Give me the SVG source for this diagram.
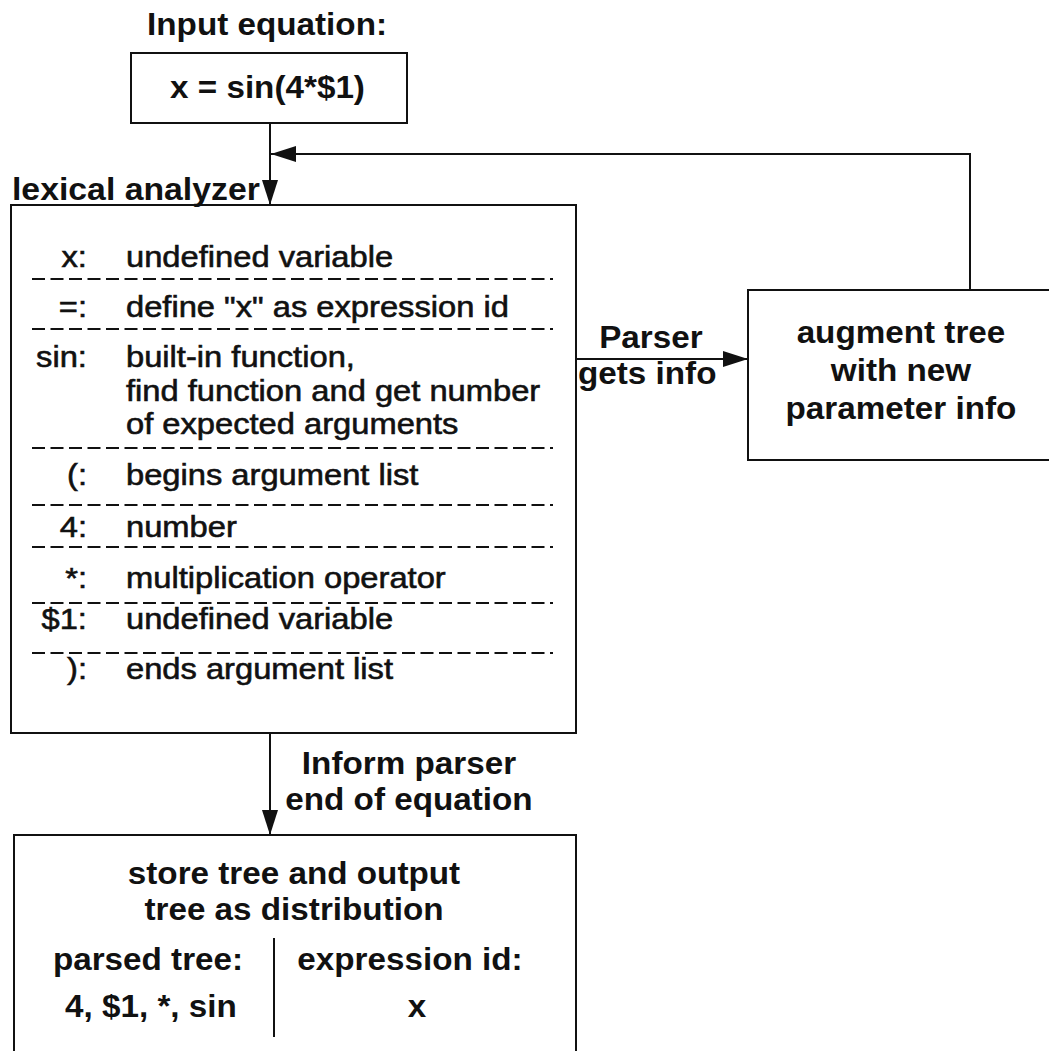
<svg xmlns="http://www.w3.org/2000/svg" width="1049" height="1051" viewBox="0 0 1049 1051">
  <style>
    .box { fill: none; stroke: #111; stroke-width: 2; }
    .wire { fill: none; stroke: #111; stroke-width: 2; }
    .sep { fill: none; stroke: #111; stroke-width: 2; stroke-dasharray: 13 5.5; }
    text { font-family: "Liberation Sans", Arial, Helvetica, sans-serif; fill: #111; }
    .b { font-weight: bold; font-size: 30.5px; }
    .r { font-size: 30px; stroke: #111; stroke-width: 0.6px; }
    .c { text-anchor: middle; }
    .e { text-anchor: end; }
  </style>
  <defs>
    <marker id="arrow" viewBox="0 0 25 16" refX="25" refY="8" markerWidth="25" markerHeight="16" markerUnits="userSpaceOnUse" orient="auto">
      <path d="M0,0 L25,8 L0,16 Z" fill="#111"/>
    </marker>
  </defs>
  <rect width="1049" height="1051" fill="#fff"/>

  <!-- connectors -->
  <g id="connectors">
    <path class="wire" d="M270,123 V205" marker-end="url(#arrow)"/>
    <path class="wire" d="M970,290 V154 H271" marker-end="url(#arrow)"/>
    <path class="wire" d="M576,359 H748" marker-end="url(#arrow)"/>
    <path class="wire" d="M270,733 V835" marker-end="url(#arrow)"/>
  </g>

  <!-- input equation -->
  <g id="input">
    <rect class="box" x="131" y="53" width="276" height="70"/>
    <g transform="scale(1.09 1)">
      <text class="b c" x="245" y="35">Input equation:</text>
      <text class="b c" x="245.4" y="98">x = sin(4*$1)</text>
    </g>
  </g>

  <!-- lexical analyzer with its token table -->
  <g id="lexer">
    <rect class="box" x="11" y="205" width="565" height="528"/>
    <path class="sep" d="M32,279 H553 M32,329 H553 M32,448 H553 M32,505 H553 M32,547 H553 M32,603 H553 M32,653 H553"/>
    <g transform="scale(1.09 1)">
      <text class="b" x="11" y="200" style="font-size:31px">lexical analyzer</text>
      <text class="r e" x="79.8" y="267">x:</text>
      <text class="r" x="115.6" y="267">undefined variable</text>
      <text class="r e" x="79.8" y="317">=:</text>
      <text class="r" x="115.6" y="317">define "x" as expression id</text>
      <text class="r e" x="79.8" y="367">sin:</text>
      <text class="r" x="115.6" y="367">built-in function,</text>
      <text class="r" x="115.6" y="401">find function and get number</text>
      <text class="r" x="115.6" y="434">of expected arguments</text>
      <text class="r e" x="79.8" y="485">(:</text>
      <text class="r" x="115.6" y="485">begins argument list</text>
      <text class="r e" x="79.8" y="537">4:</text>
      <text class="r" x="115.6" y="537">number</text>
      <text class="r e" x="79.8" y="588">*:</text>
      <text class="r" x="115.6" y="588">multiplication operator</text>
      <text class="r e" x="79.8" y="629">$1:</text>
      <text class="r" x="115.6" y="629">undefined variable</text>
      <text class="r e" x="79.8" y="679">):</text>
      <text class="r" x="115.6" y="679">ends argument list</text>
    </g>
  </g>

  <!-- connector labels -->
  <g id="labels" transform="scale(1.09 1)">
    <text class="b c" x="597.2" y="348">Parser</text>
    <text class="b" x="530.3" y="384">gets info</text>
    <text class="b c" x="375.2" y="774">Inform parser</text>
    <text class="b c" x="375.2" y="810">end of equation</text>
  </g>

  <!-- parser augments the tree -->
  <g id="augment">
    <rect class="box" x="748" y="290" width="320" height="170"/>
    <g transform="scale(1.09 1)">
      <text class="b c" x="826.6" y="343">augment tree</text>
      <text class="b c" x="826.6" y="381">with new</text>
      <text class="b c" x="826.6" y="419">parameter info</text>
    </g>
  </g>

  <!-- stored output -->
  <g id="store">
    <rect class="box" x="14" y="835" width="562" height="240"/>
    <path class="wire" d="M274,938 V1037"/>
    <g transform="scale(1.09 1)">
      <text class="b c" x="269.7" y="884">store tree and output</text>
      <text class="b c" x="269.7" y="920">tree as distribution</text>
      <text class="b c" x="135.8" y="970">parsed tree:</text>
      <text class="b c" x="138.5" y="1017">4, $1, *, sin</text>
      <text class="b c" x="376.1" y="970">expression id:</text>
      <text class="b c" x="382.6" y="1017">x</text>
    </g>
  </g>
</svg>
